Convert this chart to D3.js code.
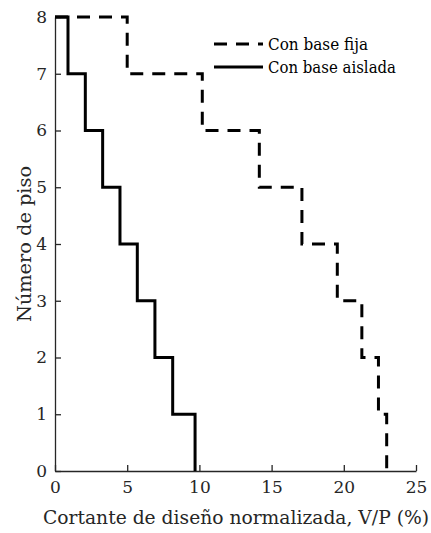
<!DOCTYPE html>
<html>
<head>
<meta charset="utf-8">
<script src="https://cdn.jsdelivr.net/npm/d3@7"></script>
<style>
  body { margin: 0; background: #fff; }
</style>
</head>
<body>
<svg id="chart" width="431" height="533"></svg>
<script>
// floors 8 -> 0, story shear V/P (%) for the story below each floor
const floors = [8, 7, 6, 5, 4, 3, 2, 1, 0];
const baseFija = [5.0, 10.2, 14.15, 17.1, 19.55, 21.25, 22.4, 22.97];
const baseAislada = [0.9, 2.1, 3.3, 4.5, 5.7, 6.92, 8.15, 9.7];
const xTicks = [0, 5, 10, 15, 20, 25];
const yTicks = [0, 1, 2, 3, 4, 5, 6, 7, 8];
const seriesNames = ["Con base fija", "Con base aislada"];

const serif = "DejaVu Serif";
const svg = d3.select("#chart");
const margin = { left: 55, right: 15, top: 17, bottom: 62 };
const W = 431, H = 533;

const x = d3.scaleLinear().domain([0, 25]).range([margin.left, W - margin.right]);
const y = d3.scaleLinear().domain([0, 8]).range([H - margin.bottom, margin.top]);

// Build step paths: start at (0, top floor), go right to shear, drop one floor, etc.
function stepPoints(vals) {
    const pts = [[0, floors[0]]];
    vals.forEach((v, i) => {
        pts.push([v, floors[i]]);
        pts.push([v, floors[i + 1]]);
    });
    return pts;
}

const line = d3.line().x(d => x(d[0])).y(d => y(d[1]));

// Axes
const xAxis = d3.axisBottom(x).tickValues(xTicks).tickSizeInner(-6).tickSizeOuter(0).tickPadding(10);
const yAxis = d3.axisLeft(y).tickValues(yTicks).tickSizeInner(-6).tickSizeOuter(0).tickPadding(8);

const gx = svg.append("g").attr("transform", `translate(0,${y(0)})`).call(xAxis);
const gy = svg.append("g").attr("transform", `translate(${x(0)},0)`).call(yAxis);
[gx, gy].forEach(g => {
    g.attr("font-family", null).attr("font-size", null);
    g.select(".domain").attr("stroke", "#262626").attr("stroke-width", 1.3);
    g.selectAll(".tick line").attr("stroke", "#262626").attr("stroke-width", 1.3);
    g.selectAll(".tick text").attr("fill", "#262626")
        .style("font-family", serif).style("font-size", "17px");
});

// Series
svg.append("path")
    .datum(stepPoints(baseFija))
    .attr("d", line)
    .attr("fill", "none")
    .attr("stroke", "#000")
    .attr("stroke-width", 3)
    .attr("stroke-dasharray", "13,9");

svg.append("path")
    .datum(stepPoints(baseAislada))
    .attr("d", line)
    .attr("fill", "none")
    .attr("stroke", "#000")
    .attr("stroke-width", 3);

// Axis labels
svg.append("text")
    .attr("x", 236)
    .attr("y", 524)
    .attr("text-anchor", "middle")
    .attr("fill", "#262626")
    .attr("textLength", 386)
    .attr("lengthAdjust", "spacingAndGlyphs")
    .style("font-family", serif)
    .style("font-size", "18px")
    .text("Cortante de diseño normalizada, V/P (%)");

svg.append("text")
    .attr("transform", `translate(31,${(y(0) + y(8)) / 2}) rotate(-90)`)
    .attr("text-anchor", "middle")
    .attr("fill", "#262626")
    .attr("textLength", 156)
    .attr("lengthAdjust", "spacingAndGlyphs")
    .style("font-family", serif)
    .style("font-size", "19px")
    .text("Número de piso");

// Legend
const legendWidths = [100, 128];
const legend = svg.append("g");
seriesNames.forEach((name, i) => {
    const ly = 44 + i * 23;
    legend.append("line")
        .attr("x1", 214).attr("x2", 263)
        .attr("y1", ly).attr("y2", ly)
        .attr("stroke", "#000")
        .attr("stroke-width", 3)
        .attr("stroke-dasharray", i === 0 ? "13,9" : null);
    legend.append("text")
        .attr("x", 268)
        .attr("y", ly + 6)
        .attr("fill", "#000")
        .attr("textLength", legendWidths[i])
        .attr("lengthAdjust", "spacingAndGlyphs")
        .style("font-family", serif)
        .style("font-size", "17px")
        .text(name);
});
</script>
</body>
</html>
